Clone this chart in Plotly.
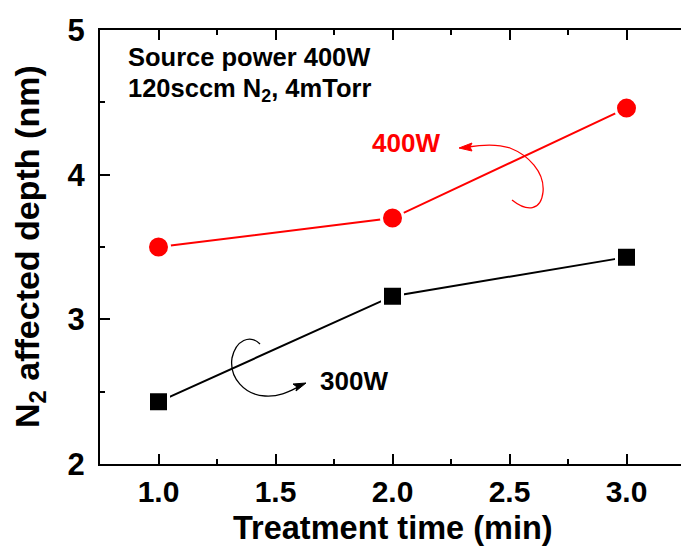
import plotly.graph_objects as go

# Data
time_min = [1.0, 2.0, 3.0]
depth_400W = [3.50, 3.70, 4.46]
depth_300W = [2.43, 3.16, 3.43]

x_ticks = [1.0, 1.5, 2.0, 2.5, 3.0]
x_tick_labels = ["1.0", "1.5", "2.0", "2.5", "3.0"]
y_ticks = [2, 3, 4, 5]
y_tick_labels = ["2", "3", "4", "5"]

W, H = 681, 547
ML, MT, MB = 100, 30, 83
PLOT_H = H - MT - MB
X0 = 0.75
PX_PER_X = 234.0
X1 = X0 + (W - ML) / PX_PER_X
Y0, Y1 = 2.0, 5.0
PX_PER_Y = PLOT_H / (Y1 - Y0)

FONT = "Liberation Sans, Arial, sans-serif"


def px2d(px, py):
    return (X0 + (px - ML) / PX_PER_X, Y1 - (py - MT) / PX_PER_Y)


def px2paper(px, py):
    return ((px - ML) / (W - ML), (MT + PLOT_H - py) / PLOT_H)


def curve_from_px(points):
    pts = [px2d(*p) for p in points]
    d = "M %.4f,%.4f" % pts[0]
    i = 1
    while i + 2 <= len(pts) - 1:
        d += " C %.4f,%.4f %.4f,%.4f %.4f,%.4f" % (pts[i] + pts[i + 1] + pts[i + 2])
        i += 3
    return d


def poly_from_px(points):
    pts = [px2d(*p) for p in points]
    d = "M %.4f,%.4f" % pts[0]
    for p in pts[1:]:
        d += " L %.4f,%.4f" % p
    return d + " Z"


fig = go.Figure()

fig.add_trace(go.Scatter(
    x=time_min, y=depth_400W, mode="lines+markers", name="400W",
    line=dict(color="#ff0000", width=2),
    marker=dict(symbol="circle", size=22, color="#ff0000",
                line=dict(color="white", width=3)),
))
fig.add_trace(go.Scatter(
    x=time_min, y=depth_300W, mode="lines+markers", name="300W",
    line=dict(color="#000000", width=2),
    marker=dict(symbol="square", size=20, color="#000000",
                line=dict(color="white", width=3)),
))

shapes = []
# red curved arrow (400W)
shapes.append(dict(type="path", xref="x", yref="y",
                   path=curve_from_px([(512, 200), (527, 212), (541, 211), (543, 192),
                                       (545, 172), (528, 155), (510, 148),
                                       (495, 143), (480, 145), (468, 147)]),
                   line=dict(color="#ff0000", width=1.3)))
shapes.append(dict(type="path", xref="x", yref="y",
                   path=poly_from_px([(459, 148), (472, 143), (470, 147), (472, 151)]),
                   fillcolor="#ff0000", line=dict(color="#ff0000", width=1)))
# black curved arrow (300W)
shapes.append(dict(type="path", xref="x", yref="y",
                   path=curve_from_px([(260, 344), (250, 334), (236, 340), (232, 358),
                                       (229, 378), (245, 395), (265, 396),
                                       (280, 397), (290, 391), (298, 387)]),
                   line=dict(color="#000000", width=1.3)))
shapes.append(dict(type="path", xref="x", yref="y",
                   path=poly_from_px([(306, 383), (293, 384), (297, 387), (296, 391)]),
                   fillcolor="#000000", line=dict(color="#000000", width=1)))


def ann(px, py, text, size, color="black", xanchor="left", angle=0):
    xp, yp = px2paper(px, py)
    return dict(x=xp, y=yp, xref="paper", yref="paper", text="<b>%s</b>" % text,
                showarrow=False, xanchor=xanchor, yanchor="middle", textangle=angle,
                font=dict(family=FONT, size=size, color=color))


annotations = [
    ann(126, 57, "Source power 400W", 25.5),
    ann(126, 90, "120sccm N<sub>2</sub>, 4mTorr", 25.5),
    ann(406, 143, "400W", 26, color="#ff0000", xanchor="center"),
    ann(354, 381, "300W", 26, xanchor="center"),
    ann(393, 528, "Treatment time (min)", 32.5, xanchor="center"),
    ann(29, 247, "N<sub>2</sub> affected depth (nm)", 34, xanchor="center", angle=-90),
]

fig.update_layout(
    width=W, height=H,
    margin=dict(l=ML, r=0, t=MT, b=MB),
    plot_bgcolor="white", paper_bgcolor="white",
    showlegend=False,
    font=dict(family=FONT, color="black"),
    shapes=shapes,
    annotations=annotations,
    xaxis=dict(
        range=[X0, X1], showgrid=False, zeroline=False,
        showline=True, linecolor="black", linewidth=2, mirror="ticks",
        ticks="inside", ticklen=10, tickwidth=2, tickcolor="black",
        tickvals=x_ticks, ticktext=["<b>%s</b>" % t for t in x_tick_labels],
        tickfont=dict(family=FONT, size=30, color="black"),
        ticklabelstandoff=0,
        minor=dict(tickvals=[1.25, 1.75, 2.25, 2.75, 3.25], ticks="inside",
                   ticklen=5, tickwidth=2, tickcolor="black"),
    ),
    yaxis=dict(
        range=[Y0, Y1], showgrid=False, zeroline=False,
        showline=True, linecolor="black", linewidth=2, mirror=False,
        ticks="inside", ticklen=10, tickwidth=2, tickcolor="black",
        tickvals=y_ticks, ticktext=["<b>%s</b>" % t for t in y_tick_labels],
        tickfont=dict(family=FONT, size=31, color="black"),
        ticklabelstandoff=7,
        minor=dict(tickvals=[2.5, 3.5, 4.5], ticks="inside",
                   ticklen=5, tickwidth=2, tickcolor="black"),
    ),
)

fig.write_html("out.html")
